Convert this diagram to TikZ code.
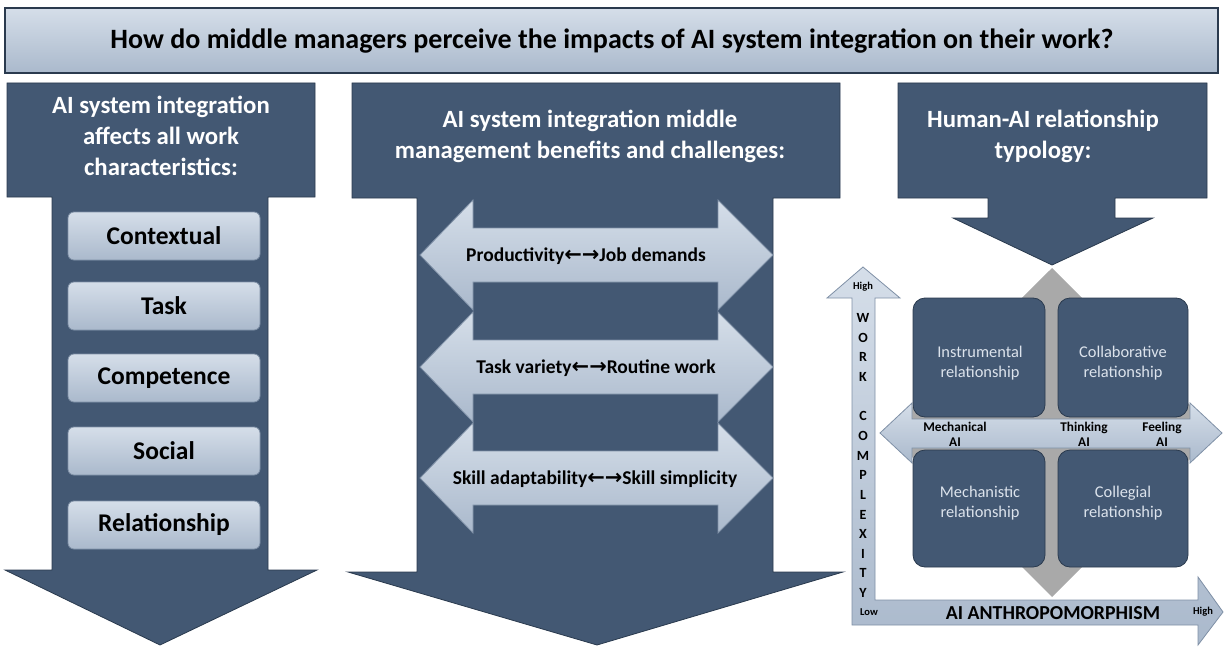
\documentclass[tikz,border=0pt]{standalone}
\usepackage{fontspec}
\setmainfont{Carlito}
\newfontfamily\arrowfont{DejaVu Sans}

\definecolor{navyfill}{HTML}{435873}
\definecolor{navyedge}{HTML}{2A3A4E}
\definecolor{paletop}{HTML}{D5DEE9}
\definecolor{palebot}{HTML}{AAB9CC}
\definecolor{paleedge}{HTML}{7F90A6}
\definecolor{diamondgray}{HTML}{A9A9A9}
\definecolor{quadtext}{HTML}{DCE3EC}

\tikzset{
  navyshape/.style={fill=navyfill, draw=navyedge, line width=0.8pt},
  paleshape/.style={top color=paletop, bottom color=palebot, draw=paleedge, line width=0.8pt},
  headtext/.style={text=white, font=\bfseries\fontsize{24.8}{31}\selectfont, align=center},
  itemtext/.style={font=\bfseries\fontsize{25.5}{28}\selectfont},
  pairtext/.style={font=\bfseries\fontsize{19.5}{22}\selectfont},
  quadlabel/.style={text=quadtext, font=\fontsize{16.4}{20}\selectfont, align=center},
  axislabel/.style={font=\bfseries\fontsize{13.3}{15}\selectfont, align=center},
  tinylabel/.style={font=\bfseries\fontsize{10.5}{12}\selectfont}
}

\newcommand{\pairarrows}{{\arrowfont\fontsize{21}{22}\selectfont ←→}}

\begin{document}
\begin{tikzpicture}[x=1pt, y=-1pt]
        \useasboundingbox (0,0) rectangle (1225,647);

        % Title bar
        \draw[paleshape, draw=navyedge, line width=1.2pt] (5,8) rectangle (1218,73);
        \node[font=\bfseries\fontsize{28}{32}\selectfont] (question) at (612,41)
          {How do middle managers perceive the impacts of AI system integration on their work?};

        % Left block arrow: work characteristics
        \draw[navyshape] (7,83) -- (315,83) -- (315,197) -- (268,197) -- (268,570) -- (317,570)
          -- (160,645) -- (5,570) -- (52,570) -- (52,197) -- (7,197) -- cycle;
        \node[headtext] (charhead) at (161,136) {AI system integration\\affects all work\\characteristics:};

        \draw[paleshape, rounded corners=6pt] (68,212) rectangle (260,260);
        \node[itemtext] (contextual) at (164,236) {Contextual};
        \draw[paleshape, rounded corners=6pt] (68,282) rectangle (260,330);
        \node[itemtext] (task) at (164,306) {Task};
        \draw[paleshape, rounded corners=6pt] (68,354) rectangle (260,402);
        \node[itemtext] (competence) at (164,378) {Competence};
        \draw[paleshape, rounded corners=6pt] (68,427) rectangle (260,475);
        \node[itemtext] (social) at (164,451) {Social};
        \draw[paleshape, rounded corners=6pt] (68,501) rectangle (260,549);
        \node[itemtext] (relationship) at (164,525) {Relationship};

        % Middle block arrow: benefits and challenges
        \draw[navyshape] (352,83) -- (840,83) -- (840,198) -- (773,198) -- (773,572) -- (843,572)
          -- (597,645) -- (348,572) -- (417,572) -- (417,198) -- (352,198) -- cycle;
        \node[headtext] (benefithead) at (590,136) {AI system integration middle\\management benefits and challenges:};

        % Double arrows, one per tension
        \draw[paleshape] (420,255) -- (473,200) -- (473,228) -- (718,228) -- (718,200) -- (773,255)
          -- (718,310) -- (718,282) -- (473,282) -- (473,310) -- cycle;
        \node[pairtext] (productivity) at (586,256) {Productivity\pairarrows Job demands};
        \draw[paleshape] (420,367) -- (473,312) -- (473,340) -- (718,340) -- (718,312) -- (773,367)
          -- (718,422) -- (718,394) -- (473,394) -- (473,422) -- cycle;
        \node[pairtext] (variety) at (596,368) {Task variety\pairarrows Routine work};
        \draw[paleshape] (420,478) -- (473,423) -- (473,451) -- (718,451) -- (718,423) -- (773,478)
          -- (718,533) -- (718,505) -- (473,505) -- (473,533) -- cycle;
        \node[pairtext] (adaptability) at (595,479) {Skill adaptability\pairarrows Skill simplicity};

        % Right block arrow: relationship typology
        \draw[navyshape] (898,83) -- (1207,83) -- (1207,198) -- (1115,198) -- (1115,218) -- (1153,218)
          -- (1052,265) -- (953,218) -- (988,218) -- (988,198) -- (898,198) -- cycle;
        \node[headtext] (typehead) at (1043,136) {Human-AI relationship\\typology:};

        % Matrix: diamond behind, anthropomorphism arrow, four quadrants
        \fill[diamondgray] (1052,268) -- (1217,432) -- (1052,597) -- (887,432) -- cycle;
        \draw[paleshape] (880,433) -- (912,403) -- (912,419) -- (1190,419) -- (1190,403) -- (1222,433)
          -- (1190,463) -- (1190,448) -- (912,448) -- (912,463) -- cycle;

        \draw[navyshape, rounded corners=12pt] (913,298) rectangle (1045,417);
        \node[quadlabel] (instrumental) at (980,363) {Instrumental\\relationship};
        \draw[navyshape, rounded corners=12pt] (1058,298) rectangle (1188,417);
        \node[quadlabel] (collaborative) at (1123,363) {Collaborative\\relationship};
        \draw[navyshape, rounded corners=12pt] (913,450) rectangle (1045,567);
        \node[quadlabel] (mechanistic) at (980,503) {Mechanistic\\relationship};
        \draw[navyshape, rounded corners=12pt] (1058,450) rectangle (1188,567);
        \node[quadlabel] (collegial) at (1123,503) {Collegial\\relationship};

        \node[axislabel] (mechanical) at (955,434) {Mechanical\\AI};
        \node[axislabel] (thinking) at (1084,434) {Thinking\\AI};
        \node[axislabel] (feeling) at (1162,434) {Feeling\\AI};

        % Axes as one bent arrow
        \draw[paleshape] (852,625) -- (852,298) -- (827,298) -- (863,267) -- (900,298) -- (875,298)
          -- (875,600) -- (1198,600) -- (1198,577) -- (1223,612) -- (1198,645) -- (1198,625) -- cycle;
        \node[tinylabel] (high) at (863,287) {High};
        \node[font=\bfseries\fontsize{14}{19.64}\selectfont, align=center, anchor=north] (complexity) at (863,310)
          {W\\O\\R\\K\\[19.64pt]C\\O\\M\\P\\L\\E\\X\\I\\T\\Y};
        \node[tinylabel] (low) at (869,612) {Low};
        \node[font=\bfseries\fontsize{19.8}{22}\selectfont] (anthro) at (1053,613) {AI ANTHROPOMORPHISM};
        \node[tinylabel] (highx) at (1203,612) {High};

        \end{tikzpicture}
\end{document}
